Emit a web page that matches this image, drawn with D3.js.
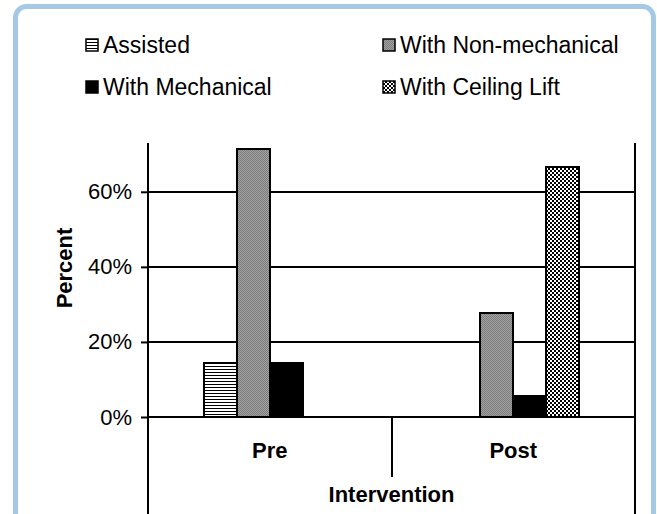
<!DOCTYPE html>
<html>
<head>
<meta charset="utf-8">
<script src="https://cdn.jsdelivr.net/npm/d3@7"></script>
<style>
    body { margin: 0; background: #fff; }
    text { font-family: "Liberation Sans", Arial, sans-serif; fill: #000; }
</style>
</head>
<body>
<svg id="chart" width="657" height="514"></svg>
<script>
// chart values
var categories = ["Pre", "Post"];
var seriesNames = ["Assisted", "With Non-mechanical", "With Mechanical", "With Ceiling Lift"];
var assisted = [0.143, 0];
var nonMechanical = [0.714, 0.278];
var mechanical = [0.143, 0.056];
var ceilingLift = [0, 0.667];
var yTicks = [0, 0.2, 0.4, 0.6];
var axisTitleX = "Intervention";
var axisTitleY = "Percent";

var seriesValues = [assisted, nonMechanical, mechanical, ceilingLift];
var seriesFill = ["url(#stripes)", "url(#dots)", "#000", "url(#checker)"];

var svg = d3.select("#chart");

// outer frame
svg.append("rect")
    .attr("x", 15.5).attr("y", 6.5)
    .attr("width", 638).attr("height", 530)
    .attr("rx", 11)
    .style("fill", "#fff")
    .style("stroke", "#a5c9e5")
    .style("stroke-width", 5);

// fill patterns
var defs = svg.append("defs");

var stripes = defs.append("pattern").attr("id", "stripes")
    .attr("patternUnits", "userSpaceOnUse").attr("width", 4).attr("height", 3);
stripes.append("rect").attr("width", 4).attr("height", 3).style("fill", "#fff");
stripes.append("rect").attr("width", 4).attr("height", 1).style("fill", "#000");

var dots = defs.append("pattern").attr("id", "dots")
    .attr("patternUnits", "userSpaceOnUse").attr("width", 2).attr("height", 2);
dots.append("rect").attr("width", 2).attr("height", 2).style("fill", "#a2a2a2");
dots.append("rect").attr("width", 1).attr("height", 1).style("fill", "#7c7c7c");
dots.append("rect").attr("x", 1).attr("y", 1).attr("width", 1).attr("height", 1).style("fill", "#7c7c7c");

var checker = defs.append("pattern").attr("id", "checker")
    .attr("patternUnits", "userSpaceOnUse").attr("width", 4).attr("height", 4);
checker.append("rect").attr("width", 4).attr("height", 4).style("fill", "#fff");
checker.append("rect").attr("width", 2).attr("height", 2).style("fill", "#000");
checker.append("rect").attr("x", 2).attr("y", 2).attr("width", 2).attr("height", 2).style("fill", "#000");

// scales
var plotLeft = 148, plotRight = 635, plotTop = 143, baseY = 417;

var x0 = d3.scaleBand().domain(categories).range([plotLeft, plotRight]);
var groupW = 132;
var x1 = d3.scaleBand().domain(seriesNames).range([0, groupW]);
var y = d3.scaleLinear().domain([0, 0.73]).range([baseY, plotTop]);

// gridlines
svg.append("g").selectAll("line")
    .data(yTicks.filter(function (d) { return d > 0; }))
    .enter().append("line")
    .attr("x1", plotLeft).attr("x2", plotRight)
    .attr("y1", function (d) { return Math.round(y(d)); })
    .attr("y2", function (d) { return Math.round(y(d)); })
    .style("stroke", "#000").style("stroke-width", 2);

// bars
var bars = [];
seriesNames.forEach(function (s, i) {
    categories.forEach(function (c, j) {
        if (seriesValues[i][j] > 0) bars.push({series: s, idx: i, cat: c, value: seriesValues[i][j]});
    });
});

svg.append("g").selectAll("rect")
    .data(bars)
    .enter().append("rect")
    .attr("x", function (d) { return Math.round(x0(d.cat) + (x0.bandwidth() - groupW) / 2 + x1(d.series)); })
    .attr("y", function (d) { return Math.round(y(d.value)); })
    .attr("width", x1.bandwidth())
    .attr("height", function (d) { return baseY - Math.round(y(d.value)); })
    .style("fill", function (d) { return seriesFill[d.idx]; })
    .style("stroke", "#000")
    .style("stroke-width", 2);

// y axis
var yAxis = svg.append("g")
    .attr("transform", "translate(" + plotLeft + ",0)")
    .call(d3.axisLeft(y).tickValues(yTicks).tickFormat(d3.format(".0%")).tickSize(7).tickPadding(9));
yAxis.select(".domain").remove();
yAxis.selectAll(".tick line").style("stroke", "#000").style("stroke-width", 2);
yAxis.selectAll(".tick text")
    .style("font-size", "22px")
    .style("font-family", "'Liberation Sans', Arial, sans-serif");

// baseline, outer verticals and category divider
svg.append("line")
    .attr("x1", plotLeft).attr("x2", plotRight)
    .attr("y1", baseY).attr("y2", baseY)
    .style("stroke", "#000").style("stroke-width", 2);
[plotLeft, plotRight].forEach(function (xv) {
    svg.append("line")
        .attr("x1", xv).attr("x2", xv)
        .attr("y1", plotTop).attr("y2", 514)
        .style("stroke", "#000").style("stroke-width", 2);
});
svg.append("line")
    .attr("x1", Math.round(x0(categories[1]))).attr("x2", Math.round(x0(categories[1])))
    .attr("y1", baseY).attr("y2", 477)
    .style("stroke", "#000").style("stroke-width", 2);

// category labels
svg.append("g").selectAll("text")
    .data(categories)
    .enter().append("text")
    .attr("x", function (d) { return x0(d) + x0.bandwidth() / 2; })
    .attr("y", 458)
    .attr("text-anchor", "middle")
    .style("font-size", "22px").style("font-weight", "bold")
    .text(function (d) { return d; });

svg.append("text")
    .attr("x", (plotLeft + plotRight) / 2).attr("y", 502)
    .attr("text-anchor", "middle")
    .style("font-size", "22px").style("font-weight", "bold")
    .text(axisTitleX);

svg.append("text")
    .attr("transform", "translate(72,268) rotate(-90)")
    .attr("text-anchor", "middle")
    .style("font-size", "22px").style("font-weight", "bold")
    .text(axisTitleY);

// legend: two columns, filled row by row
var legendX = [86, 383], legendY = [45, 87];
var legend = svg.append("g").selectAll("g")
    .data(seriesNames)
    .enter().append("g")
    .attr("transform", function (d, i) {
        return "translate(" + legendX[i % 2] + "," + legendY[Math.floor(i / 2)] + ")";
    });
legend.append("rect")
    .attr("x", 0).attr("y", -6)
    .attr("width", 12).attr("height", 12)
    .style("fill", function (d, i) { return seriesFill[i]; })
    .style("stroke", "#000").style("stroke-width", 1.5);
legend.append("text")
    .attr("x", 17).attr("y", 8)
    .style("font-size", "23px")
    .text(function (d) { return d; });
</script>
</body>
</html>
